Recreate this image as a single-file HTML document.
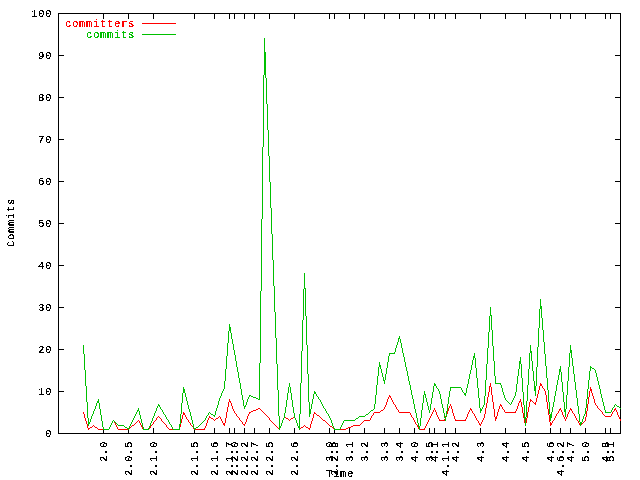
<!DOCTYPE html>
<html lang="en"><head><meta charset="utf-8"><title>Commits over Time</title>
<style>html,body{margin:0;padding:0;background:#fff}body{width:640px;height:480px;overflow:hidden}svg{display:block}
text{font-family:"Liberation Mono", monospace;font-size:10.6px;letter-spacing:0.640px;fill:#000;stroke:#000;stroke-width:.2px}
.d{stroke-width:.9px}
.r{fill:#f00;stroke:#f00}.g{fill:#00c000;stroke:#00c000}
.ln{fill:none;stroke-width:1;shape-rendering:crispEdges}</style></head><body>
<svg width="640" height="480" viewBox="0 0 640 480">
<rect width="640" height="480" fill="#fff"/>
<path shape-rendering="crispEdges" fill="#000" d="M58 13h563v1h-563zM58 433h563v1h-563zM58 14h1v419h-1zM620 14h1v419h-1zM59 391h5v1h-5zM615 391h5v1h-5zM59 349h5v1h-5zM615 349h5v1h-5zM59 307h5v1h-5zM615 307h5v1h-5zM59 265h5v1h-5zM615 265h5v1h-5zM59 223h5v1h-5zM615 223h5v1h-5zM59 181h5v1h-5zM615 181h5v1h-5zM59 139h5v1h-5zM615 139h5v1h-5zM59 97h5v1h-5zM615 97h5v1h-5zM59 55h5v1h-5zM615 55h5v1h-5zM103 428h1v5h-1zM103 14h1v5h-1zM128 428h1v5h-1zM128 14h1v5h-1zM153 428h1v5h-1zM153 14h1v5h-1zM194 428h1v5h-1zM194 14h1v5h-1zM214 428h1v5h-1zM214 14h1v5h-1zM229 428h1v5h-1zM229 14h1v5h-1zM234 428h1v5h-1zM234 14h1v5h-1zM244 428h1v5h-1zM244 14h1v5h-1zM254 428h1v5h-1zM254 14h1v5h-1zM269 428h1v5h-1zM269 14h1v5h-1zM294 428h1v5h-1zM294 14h1v5h-1zM329 428h1v5h-1zM329 14h1v5h-1zM334 428h1v5h-1zM334 14h1v5h-1zM349 428h1v5h-1zM349 14h1v5h-1zM364 428h1v5h-1zM364 14h1v5h-1zM384 428h1v5h-1zM384 14h1v5h-1zM399 428h1v5h-1zM399 14h1v5h-1zM414 428h1v5h-1zM414 14h1v5h-1zM429 428h1v5h-1zM429 14h1v5h-1zM434 428h1v5h-1zM434 14h1v5h-1zM445 428h1v5h-1zM445 14h1v5h-1zM455 428h1v5h-1zM455 14h1v5h-1zM480 428h1v5h-1zM480 14h1v5h-1zM505 428h1v5h-1zM505 14h1v5h-1zM525 428h1v5h-1zM525 14h1v5h-1zM550 428h1v5h-1zM550 14h1v5h-1zM560 428h1v5h-1zM560 14h1v5h-1zM570 428h1v5h-1zM570 14h1v5h-1zM585 428h1v5h-1zM585 14h1v5h-1zM605 428h1v5h-1zM605 14h1v5h-1zM610 428h1v5h-1zM610 14h1v5h-1z"/>
<defs><filter id="bm" filterUnits="userSpaceOnUse" x="0" y="0" width="640" height="480" color-interpolation-filters="sRGB"><feComponentTransfer><feFuncA type="discrete" tableValues="0 1"/></feComponentTransfer></filter></defs>
<g filter="url(#bm)">
<text x="45" y="437">0</text>
<text x="38" y="395">10</text>
<text x="38" y="353">20</text>
<text x="38" y="311">30</text>
<text x="38" y="269">40</text>
<text x="38" y="227">50</text>
<text x="38" y="185">60</text>
<text x="38" y="143">70</text>
<text x="38" y="101">80</text>
<text x="38" y="59">90</text>
<text x="31" y="17">100</text>
<text transform="translate(106.75 462) rotate(-90)">2<tspan class="d">.</tspan>0</text>
<text transform="translate(131.75 476) rotate(-90)">2<tspan class="d">.</tspan>0<tspan class="d">.</tspan>5</text>
<text transform="translate(156.75 476) rotate(-90)">2<tspan class="d">.</tspan>1<tspan class="d">.</tspan>0</text>
<text transform="translate(197.75 476) rotate(-90)">2<tspan class="d">.</tspan>1<tspan class="d">.</tspan>5</text>
<text transform="translate(217.75 476) rotate(-90)">2<tspan class="d">.</tspan>1<tspan class="d">.</tspan>6</text>
<text transform="translate(232.75 476) rotate(-90)">2<tspan class="d">.</tspan>1<tspan class="d">.</tspan>7</text>
<text transform="translate(237.75 476) rotate(-90)">2<tspan class="d">.</tspan>2<tspan class="d">.</tspan>0</text>
<text transform="translate(247.75 476) rotate(-90)">2<tspan class="d">.</tspan>2<tspan class="d">.</tspan>2</text>
<text transform="translate(257.75 476) rotate(-90)">2<tspan class="d">.</tspan>2<tspan class="d">.</tspan>7</text>
<text transform="translate(272.75 476) rotate(-90)">2<tspan class="d">.</tspan>2<tspan class="d">.</tspan>5</text>
<text transform="translate(297.75 476) rotate(-90)">2<tspan class="d">.</tspan>2<tspan class="d">.</tspan>6</text>
<text transform="translate(332.75 462) rotate(-90)">3<tspan class="d">.</tspan>0</text>
<text transform="translate(337.75 476) rotate(-90)">2<tspan class="d">.</tspan>2<tspan class="d">.</tspan>9</text>
<text transform="translate(352.75 462) rotate(-90)">3<tspan class="d">.</tspan>1</text>
<text transform="translate(367.75 462) rotate(-90)">3<tspan class="d">.</tspan>2</text>
<text transform="translate(387.75 462) rotate(-90)">3<tspan class="d">.</tspan>3</text>
<text transform="translate(402.75 462) rotate(-90)">3<tspan class="d">.</tspan>4</text>
<text transform="translate(417.75 462) rotate(-90)">4<tspan class="d">.</tspan>0</text>
<text transform="translate(432.75 462) rotate(-90)">3<tspan class="d">.</tspan>5</text>
<text transform="translate(437.75 462) rotate(-90)">4<tspan class="d">.</tspan>1</text>
<text transform="translate(448.75 476) rotate(-90)">4<tspan class="d">.</tspan>1<tspan class="d">.</tspan>1</text>
<text transform="translate(458.75 462) rotate(-90)">4<tspan class="d">.</tspan>2</text>
<text transform="translate(483.75 462) rotate(-90)">4<tspan class="d">.</tspan>3</text>
<text transform="translate(508.75 462) rotate(-90)">4<tspan class="d">.</tspan>4</text>
<text transform="translate(528.75 462) rotate(-90)">4<tspan class="d">.</tspan>5</text>
<text transform="translate(553.75 462) rotate(-90)">4<tspan class="d">.</tspan>6</text>
<text transform="translate(563.75 476) rotate(-90)">4<tspan class="d">.</tspan>6<tspan class="d">.</tspan>2</text>
<text transform="translate(573.75 462) rotate(-90)">4<tspan class="d">.</tspan>7</text>
<text transform="translate(588.75 462) rotate(-90)">5<tspan class="d">.</tspan>0</text>
<text transform="translate(608.75 462) rotate(-90)">4<tspan class="d">.</tspan>8</text>
<text transform="translate(613.75 462) rotate(-90)">5<tspan class="d">.</tspan>1</text>
<text transform="translate(14.25 247) rotate(-90)">Commits</text>
<text x="326" y="477">Time</text>
<text class="r" x="65" y="27">committers</text>
<text class="g" x="86" y="38">commits</text>
</g>
<path class="ln" stroke="#f00" d="M142 23.5H176"/>
<path class="ln" stroke="#00c000" d="M142 34.5H176"/>
<path shape-rendering="crispEdges" fill="#f00" d="M83 412h1v2h-1zM84 414h1v4h-1zM85 418h1v3h-1zM86 421h1v3h-1zM87 424h1v4h-1zM88 428h1v2h-1zM89 428h1v1h-1zM90 427h2v1h-2zM92 426h1v1h-1zM93 425h1v1h-1zM94 426h1v1h-1zM95 427h2v1h-2zM97 428h1v1h-1zM98 429h11v1h-11zM109 427h1v2h-1zM110 425h1v2h-1zM111 423h1v2h-1zM112 421h1v2h-1zM113 420h1v1h-1zM114 421h1v2h-1zM115 423h1v2h-1zM116 425h1v2h-1zM117 427h1v2h-1zM118 429h11v1h-11zM129 428h1v1h-1zM130 427h1v1h-1zM131 426h1v1h-1zM132 425h2v1h-2zM134 424h1v1h-1zM135 423h1v1h-1zM136 422h1v1h-1zM137 421h1v1h-1zM138 420h1v1h-1zM139 421h1v2h-1zM140 423h1v2h-1zM141 425h1v2h-1zM142 427h1v2h-1zM143 429h6v1h-6zM149 428h1v1h-1zM150 426h1v2h-1zM151 425h1v1h-1zM152 424h1v1h-1zM153 422h1v2h-1zM154 421h1v1h-1zM155 420h1v1h-1zM156 418h1v2h-1zM157 417h1v1h-1zM158 416h1v1h-1zM159 417h1v1h-1zM160 418h1v1h-1zM161 419h1v2h-1zM162 421h1v1h-1zM163 422h1v1h-1zM164 423h1v1h-1zM165 424h1v1h-1zM166 425h1v2h-1zM167 427h1v1h-1zM168 428h1v1h-1zM169 429h11v1h-11zM179 427h1v2h-1zM180 423h1v4h-1zM181 419h1v4h-1zM182 415h1v4h-1zM183 412h1v3h-1zM184 413h1v2h-1zM185 415h1v2h-1zM186 417h1v2h-1zM187 419h1v1h-1zM188 420h1v2h-1zM189 422h1v1h-1zM190 423h1v2h-1zM191 425h1v1h-1zM192 426h1v1h-1zM193 427h1v2h-1zM194 429h11v1h-11zM204 428h1v1h-1zM205 426h1v2h-1zM206 423h1v3h-1zM207 420h1v3h-1zM208 418h1v2h-1zM209 416h1v2h-1zM210 417h1v1h-1zM211 418h2v1h-2zM213 419h1v1h-1zM214 420h1v1h-1zM215 419h1v1h-1zM216 418h2v1h-2zM218 417h1v1h-1zM219 416h1v1h-1zM220 417h1v2h-1zM221 419h1v2h-1zM222 421h1v2h-1zM223 423h1v2h-1zM224 423h1v3h-1zM225 418h1v5h-1zM226 412h1v6h-1zM227 407h1v5h-1zM228 402h1v5h-1zM229 399h1v3h-1zM230 401h1v2h-1zM231 403h1v3h-1zM232 406h1v3h-1zM233 409h1v2h-1zM234 411h1v2h-1zM235 413h1v1h-1zM236 414h1v2h-1zM237 416h1v1h-1zM238 417h1v1h-1zM239 418h1v2h-1zM240 420h1v1h-1zM241 421h1v1h-1zM242 422h1v2h-1zM243 424h2v1h-2zM244 425h1v1h-1zM245 422h1v2h-1zM246 419h1v3h-1zM247 416h1v3h-1zM248 414h1v2h-1zM249 412h1v2h-1zM250 412h1v1h-1zM251 411h2v1h-2zM253 410h3v1h-3zM256 409h2v1h-2zM258 408h2v1h-2zM260 409h1v1h-1zM261 410h1v1h-1zM262 411h1v1h-1zM263 412h1v1h-1zM264 413h1v1h-1zM265 414h1v1h-1zM266 415h1v1h-1zM267 416h1v1h-1zM268 417h1v1h-1zM269 418h1v2h-1zM270 420h1v1h-1zM271 421h1v1h-1zM272 422h1v1h-1zM273 423h1v1h-1zM274 424h1v1h-1zM275 425h1v1h-1zM276 426h1v1h-1zM277 427h1v1h-1zM278 428h2v1h-2zM279 429h1v1h-1zM280 426h1v2h-1zM281 423h1v3h-1zM282 420h1v3h-1zM283 418h1v2h-1zM284 416h1v2h-1zM285 417h1v1h-1zM286 418h2v1h-2zM288 419h1v1h-1zM289 420h1v1h-1zM290 419h1v1h-1zM291 418h2v1h-2zM293 417h2v1h-2zM294 416h1v1h-1zM295 418h1v2h-1zM296 420h1v3h-1zM297 423h1v3h-1zM298 426h1v2h-1zM299 428h1v2h-1zM300 428h1v1h-1zM301 427h2v1h-2zM303 426h1v1h-1zM304 425h1v1h-1zM305 426h1v1h-1zM306 427h2v1h-2zM308 428h2v1h-2zM309 429h1v1h-1zM310 424h1v4h-1zM311 421h1v3h-1zM312 418h1v3h-1zM313 414h1v4h-1zM314 412h1v2h-1zM315 413h1v1h-1zM316 414h1v1h-1zM317 415h2v1h-2zM319 416h1v1h-1zM320 417h1v1h-1zM321 418h1v1h-1zM322 419h1v1h-1zM323 420h2v1h-2zM325 421h1v1h-1zM326 422h1v1h-1zM327 423h1v1h-1zM328 424h1v1h-1zM329 425h1v1h-1zM330 426h2v1h-2zM332 427h1v1h-1zM333 428h1v1h-1zM334 429h12v1h-12zM346 428h2v1h-2zM348 427h3v1h-3zM351 426h2v1h-2zM353 425h7v1h-7zM360 424h1v1h-1zM361 423h1v1h-1zM362 422h1v1h-1zM363 421h1v1h-1zM364 420h6v1h-6zM370 418h1v2h-1zM371 416h1v2h-1zM372 415h1v1h-1zM373 413h1v2h-1zM374 412h6v1h-6zM380 411h1v1h-1zM381 410h2v1h-2zM383 409h1v1h-1zM384 407h1v2h-1zM385 405h1v2h-1zM386 402h1v3h-1zM387 399h1v3h-1zM388 397h1v2h-1zM389 395h1v2h-1zM390 396h1v2h-1zM391 398h1v2h-1zM392 400h1v2h-1zM393 402h1v2h-1zM394 404h1v1h-1zM395 405h1v2h-1zM396 407h1v2h-1zM397 409h1v1h-1zM398 410h1v2h-1zM399 412h11v1h-11zM410 413h1v2h-1zM411 415h1v2h-1zM412 417h1v1h-1zM413 418h1v2h-1zM414 420h1v2h-1zM415 422h1v2h-1zM416 424h1v1h-1zM417 425h1v2h-1zM418 427h1v2h-1zM419 429h6v1h-6zM424 428h1v1h-1zM425 426h1v2h-1zM426 424h1v2h-1zM427 422h1v2h-1zM428 420h1v2h-1zM429 418h1v2h-1zM430 416h1v2h-1zM431 414h1v2h-1zM432 412h1v2h-1zM433 410h1v2h-1zM434 408h1v2h-1zM435 410h1v2h-1zM436 412h1v3h-1zM437 415h1v2h-1zM438 417h1v2h-1zM439 419h1v2h-1zM440 420h5v1h-5zM444 419h1v1h-1zM445 416h1v3h-1zM446 414h1v2h-1zM447 411h1v3h-1zM448 408h1v3h-1zM449 406h1v2h-1zM450 404h1v2h-1zM451 406h1v3h-1zM452 409h1v4h-1zM453 413h1v3h-1zM454 416h1v3h-1zM455 419h1v2h-1zM456 420h10v1h-10zM465 419h1v1h-1zM466 417h1v2h-1zM467 414h1v3h-1zM468 412h1v2h-1zM469 410h1v2h-1zM470 408h1v2h-1zM471 409h1v2h-1zM472 411h1v2h-1zM473 413h1v1h-1zM474 414h1v2h-1zM475 416h1v2h-1zM476 418h1v2h-1zM477 420h1v1h-1zM478 421h1v2h-1zM479 423h1v2h-1zM480 424h1v2h-1zM481 422h1v2h-1zM482 420h1v2h-1zM483 418h1v2h-1zM484 414h1v4h-1zM485 408h1v6h-1zM486 403h1v5h-1zM487 397h1v6h-1zM488 392h1v5h-1zM489 386h1v6h-1zM490 383h1v4h-1zM491 387h1v8h-1zM492 395h1v7h-1zM493 402h1v7h-1zM494 409h1v8h-1zM495 417h1v4h-1zM496 416h1v3h-1zM497 412h1v4h-1zM498 409h1v3h-1zM499 406h1v3h-1zM500 404h1v2h-1zM501 405h1v2h-1zM502 407h1v2h-1zM503 409h1v1h-1zM504 410h1v2h-1zM505 412h11v1h-11zM515 411h1v1h-1zM516 409h1v2h-1zM517 406h1v3h-1zM518 403h1v3h-1zM519 401h1v2h-1zM520 399h1v3h-1zM521 402h1v5h-1zM522 407h1v6h-1zM523 413h1v5h-1zM524 418h1v5h-1zM525 423h1v3h-1zM526 418h1v5h-1zM527 412h1v6h-1zM528 407h1v5h-1zM529 402h1v5h-1zM530 399h1v3h-1zM531 400h1v1h-1zM532 401h1v1h-1zM533 402h1v1h-1zM534 403h2v1h-2zM535 402h1v1h-1zM535 404h1v1h-1zM536 398h1v4h-1zM537 394h1v4h-1zM538 390h1v4h-1zM539 386h1v4h-1zM540 383h1v3h-1zM541 384h1v2h-1zM542 386h1v2h-1zM543 388h1v1h-1zM544 389h1v2h-1zM545 391h1v4h-1zM546 395h1v7h-1zM547 402h1v7h-1zM548 409h1v6h-1zM549 415h1v7h-1zM550 422h1v4h-1zM551 423h1v2h-1zM552 421h1v2h-1zM553 420h1v1h-1zM554 418h1v2h-1zM555 416h1v2h-1zM556 414h1v2h-1zM557 413h1v1h-1zM558 411h1v2h-1zM559 409h1v2h-1zM560 408h1v2h-1zM561 410h1v2h-1zM562 412h1v3h-1zM563 415h1v2h-1zM564 417h1v2h-1zM565 419h1v2h-1zM566 417h1v2h-1zM567 414h1v3h-1zM568 412h1v2h-1zM569 410h1v2h-1zM570 408h1v2h-1zM571 409h1v2h-1zM572 411h1v2h-1zM573 413h1v1h-1zM574 414h1v2h-1zM575 416h1v2h-1zM576 418h1v2h-1zM577 420h1v1h-1zM578 421h1v2h-1zM579 423h1v2h-1zM580 425h1v1h-1zM581 424h1v1h-1zM582 423h1v1h-1zM583 422h1v1h-1zM584 421h1v1h-1zM585 417h1v4h-1zM586 411h1v6h-1zM587 404h1v7h-1zM588 397h1v7h-1zM589 391h1v6h-1zM590 387h1v4h-1zM591 389h1v4h-1zM592 393h1v3h-1zM593 396h1v3h-1zM594 399h1v4h-1zM595 403h1v2h-1zM596 405h1v1h-1zM597 406h1v2h-1zM598 408h1v1h-1zM599 409h1v1h-1zM600 410h1v1h-1zM601 411h1v1h-1zM602 412h1v2h-1zM603 414h1v1h-1zM604 415h1v1h-1zM605 416h6v1h-6zM611 414h1v2h-1zM612 412h1v2h-1zM613 411h1v1h-1zM614 409h1v2h-1zM615 408h1v2h-1zM616 410h1v2h-1zM617 412h1v3h-1zM618 415h1v2h-1zM619 417h1v2h-1zM620 419h1v2h-1z"/>
<path shape-rendering="crispEdges" fill="#00c000" d="M83 345h1v9h-1zM84 354h1v16h-1zM85 370h1v16h-1zM86 386h1v16h-1zM87 402h1v16h-1zM88 418h1v8h-1zM89 422h1v2h-1zM90 419h1v3h-1zM91 416h1v3h-1zM92 414h1v2h-1zM93 411h1v3h-1zM94 409h1v2h-1zM95 406h1v3h-1zM96 403h1v3h-1zM97 401h1v2h-1zM98 399h1v4h-1zM99 403h1v6h-1zM100 409h1v6h-1zM101 415h1v6h-1zM102 421h1v6h-1zM103 427h1v3h-1zM104 429h5v1h-5zM109 427h1v2h-1zM110 425h1v2h-1zM111 423h1v2h-1zM112 421h1v2h-1zM113 420h1v1h-1zM114 421h1v1h-1zM115 422h1v1h-1zM116 423h1v1h-1zM117 424h1v1h-1zM118 425h6v1h-6zM124 426h1v1h-1zM125 427h2v1h-2zM127 428h2v1h-2zM128 429h1v1h-1zM129 426h1v2h-1zM130 424h1v2h-1zM131 422h1v2h-1zM132 420h1v2h-1zM133 418h1v2h-1zM134 416h1v2h-1zM135 414h1v2h-1zM136 412h1v2h-1zM137 410h1v2h-1zM138 408h1v3h-1zM139 411h1v4h-1zM140 415h1v4h-1zM141 419h1v4h-1zM142 423h1v4h-1zM143 427h1v3h-1zM144 429h5v1h-5zM148 428h1v1h-1zM149 426h1v2h-1zM150 423h1v3h-1zM151 421h1v2h-1zM152 418h1v3h-1zM153 416h1v2h-1zM154 413h1v3h-1zM155 411h1v2h-1zM156 408h1v3h-1zM157 406h1v2h-1zM158 404h1v2h-1zM159 405h1v2h-1zM160 407h1v2h-1zM161 409h1v1h-1zM162 410h1v2h-1zM163 412h1v2h-1zM164 414h1v1h-1zM165 415h1v2h-1zM166 417h1v2h-1zM167 419h1v1h-1zM168 420h1v2h-1zM169 422h1v2h-1zM170 424h1v1h-1zM171 425h1v2h-1zM172 427h1v2h-1zM173 429h7v1h-7zM179 424h1v5h-1zM180 414h1v10h-1zM181 403h1v11h-1zM182 393h1v10h-1zM183 387h1v6h-1zM184 389h1v4h-1zM185 393h1v4h-1zM186 397h1v4h-1zM187 401h1v4h-1zM188 405h1v4h-1zM189 409h1v3h-1zM190 412h1v4h-1zM191 416h1v4h-1zM192 420h1v4h-1zM193 424h1v4h-1zM194 428h1v2h-1zM195 428h1v1h-1zM196 427h2v1h-2zM198 426h1v1h-1zM199 425h1v1h-1zM200 424h1v1h-1zM201 423h1v1h-1zM202 422h1v1h-1zM203 421h1v1h-1zM204 420h1v1h-1zM205 418h1v2h-1zM206 416h1v2h-1zM207 415h1v1h-1zM208 413h1v2h-1zM209 412h1v1h-1zM210 413h1v1h-1zM211 414h2v1h-2zM213 415h2v1h-2zM214 416h1v1h-1zM215 411h1v4h-1zM216 408h1v3h-1zM217 405h1v3h-1zM218 401h1v4h-1zM219 398h1v3h-1zM220 396h1v2h-1zM221 393h1v3h-1zM222 391h1v2h-1zM223 389h1v2h-1zM224 381h1v8h-1zM225 369h1v12h-1zM226 356h1v13h-1zM227 343h1v13h-1zM228 331h1v12h-1zM229 324h1v7h-1zM230 327h1v6h-1zM231 333h1v6h-1zM232 339h1v5h-1zM233 344h1v6h-1zM234 350h1v5h-1zM235 355h1v6h-1zM236 361h1v6h-1zM237 367h1v5h-1zM238 372h1v6h-1zM239 378h1v5h-1zM240 383h1v6h-1zM241 389h1v6h-1zM242 395h1v5h-1zM243 400h1v6h-1zM244 406h1v3h-1zM245 405h1v2h-1zM246 402h1v3h-1zM247 399h1v3h-1zM248 397h1v2h-1zM249 395h1v2h-1zM250 395h1v1h-1zM251 396h2v1h-2zM253 397h3v1h-3zM256 398h2v1h-2zM258 399h2v1h-2zM259 363h1v36h-1zM260 291h1v72h-1zM261 219h1v72h-1zM262 147h1v72h-1zM263 75h1v72h-1zM264 38h1v37h-1zM265 52h1v26h-1zM266 78h1v26h-1zM267 104h1v26h-1zM268 130h1v26h-1zM269 156h1v26h-1zM270 182h1v26h-1zM271 208h1v26h-1zM272 234h1v26h-1zM273 260h1v26h-1zM274 286h1v26h-1zM275 312h1v26h-1zM276 338h1v26h-1zM277 364h1v26h-1zM278 390h1v26h-1zM279 416h1v14h-1zM280 426h1v2h-1zM281 423h1v3h-1zM282 420h1v3h-1zM283 418h1v2h-1zM284 413h1v5h-1zM285 407h1v6h-1zM286 400h1v7h-1zM287 393h1v7h-1zM288 387h1v6h-1zM289 383h1v4h-1zM290 387h1v6h-1zM291 393h1v7h-1zM292 400h1v7h-1zM293 407h1v6h-1zM294 413h1v5h-1zM295 418h1v2h-1zM296 420h1v3h-1zM297 423h1v3h-1zM298 426h1v2h-1zM299 414h1v16h-1zM300 383h1v31h-1zM301 351h1v32h-1zM302 320h1v31h-1zM303 289h1v31h-1zM304 273h1v16h-1zM305 288h1v28h-1zM306 316h1v29h-1zM307 345h1v29h-1zM308 374h1v28h-1zM309 402h1v15h-1zM310 409h1v5h-1zM311 404h1v5h-1zM312 399h1v5h-1zM313 394h1v5h-1zM314 391h1v3h-1zM315 392h1v2h-1zM316 394h1v2h-1zM317 396h1v1h-1zM318 397h1v2h-1zM319 399h1v1h-1zM320 400h1v2h-1zM321 402h1v2h-1zM322 404h1v2h-1zM323 406h1v2h-1zM324 408h1v1h-1zM325 409h1v2h-1zM326 411h1v2h-1zM327 413h1v1h-1zM328 414h1v2h-1zM329 416h1v2h-1zM330 418h1v2h-1zM331 420h1v3h-1zM332 423h1v3h-1zM333 426h1v2h-1zM334 428h1v2h-1zM335 429h5v1h-5zM340 427h1v2h-1zM341 425h1v2h-1zM342 423h1v2h-1zM343 421h1v2h-1zM344 420h11v1h-11zM355 419h1v1h-1zM356 418h2v1h-2zM358 417h1v1h-1zM359 416h6v1h-6zM365 415h1v1h-1zM366 414h2v1h-2zM368 413h1v1h-1zM369 412h1v1h-1zM370 411h1v1h-1zM371 410h2v1h-2zM373 409h1v1h-1zM374 404h1v5h-1zM375 395h1v9h-1zM376 385h1v10h-1zM377 376h1v9h-1zM378 367h1v9h-1zM379 362h1v5h-1zM380 365h1v4h-1zM381 369h1v4h-1zM382 373h1v4h-1zM383 377h1v4h-1zM384 380h1v4h-1zM385 374h1v6h-1zM386 368h1v6h-1zM387 362h1v6h-1zM388 356h1v6h-1zM389 353h1v3h-1zM390 353h5v1h-5zM394 352h1v1h-1zM395 348h1v4h-1zM396 345h1v3h-1zM397 342h1v3h-1zM398 338h1v4h-1zM399 336h1v3h-1zM400 339h1v4h-1zM401 343h1v5h-1zM402 348h1v5h-1zM403 353h1v4h-1zM404 357h1v5h-1zM405 362h1v5h-1zM406 367h1v4h-1zM407 371h1v5h-1zM408 376h1v5h-1zM409 381h1v4h-1zM410 385h1v5h-1zM411 390h1v5h-1zM412 395h1v4h-1zM413 399h1v5h-1zM414 404h1v5h-1zM415 409h1v4h-1zM416 413h1v5h-1zM417 418h1v5h-1zM418 423h1v4h-1zM419 426h1v4h-1zM420 418h1v8h-1zM421 410h1v8h-1zM422 403h1v7h-1zM423 395h1v8h-1zM424 391h1v4h-1zM425 394h1v4h-1zM426 398h1v4h-1zM427 402h1v4h-1zM428 406h1v4h-1zM429 410h1v3h-1zM430 404h1v6h-1zM431 398h1v6h-1zM432 392h1v6h-1zM433 386h1v6h-1zM434 383h1v3h-1zM435 384h1v2h-1zM436 386h1v2h-1zM437 388h1v1h-1zM438 389h1v2h-1zM439 391h1v3h-1zM440 394h1v5h-1zM441 399h1v5h-1zM442 404h1v4h-1zM443 408h1v5h-1zM444 413h1v5h-1zM445 417h1v4h-1zM446 411h1v6h-1zM447 404h1v7h-1zM448 397h1v7h-1zM449 391h1v6h-1zM450 387h1v4h-1zM451 387h10v1h-10zM461 388h1v2h-1zM462 390h1v2h-1zM463 392h1v1h-1zM464 393h1v2h-1zM465 393h1v3h-1zM466 388h1v5h-1zM467 384h1v4h-1zM468 379h1v5h-1zM469 374h1v5h-1zM470 370h1v4h-1zM471 365h1v5h-1zM472 360h1v5h-1zM473 356h1v4h-1zM474 353h1v5h-1zM475 358h1v10h-1zM476 368h1v10h-1zM477 378h1v10h-1zM478 388h1v10h-1zM479 398h1v10h-1zM480 408h1v5h-1zM481 409h1v2h-1zM482 407h1v2h-1zM483 405h1v2h-1zM484 396h1v9h-1zM485 380h1v16h-1zM486 364h1v16h-1zM487 348h1v16h-1zM488 332h1v16h-1zM489 316h1v16h-1zM490 307h1v9h-1zM491 315h1v15h-1zM492 330h1v16h-1zM493 346h1v15h-1zM494 361h1v15h-1zM495 376h1v8h-1zM496 383h5v1h-5zM500 384h1v1h-1zM501 385h1v3h-1zM502 388h1v4h-1zM503 392h1v3h-1zM504 395h1v3h-1zM505 398h1v2h-1zM506 400h1v1h-1zM507 401h1v1h-1zM508 402h1v1h-1zM509 403h1v1h-1zM510 404h1v1h-1zM511 402h1v2h-1zM512 400h1v2h-1zM513 398h1v2h-1zM514 396h1v2h-1zM515 392h1v4h-1zM516 384h1v8h-1zM517 376h1v8h-1zM518 369h1v7h-1zM519 361h1v8h-1zM520 357h1v7h-1zM521 364h1v14h-1zM522 378h1v14h-1zM523 392h1v13h-1zM524 405h1v14h-1zM525 417h1v9h-1zM526 401h1v16h-1zM527 385h1v16h-1zM528 369h1v16h-1zM529 353h1v16h-1zM530 345h1v8h-1zM531 351h1v10h-1zM532 361h1v10h-1zM533 371h1v10h-1zM534 381h1v10h-1zM535 386h1v10h-1zM536 367h1v19h-1zM537 347h1v20h-1zM538 328h1v19h-1zM539 309h1v19h-1zM540 299h1v10h-1zM541 306h1v12h-1zM542 318h1v12h-1zM543 330h1v12h-1zM544 342h1v12h-1zM545 354h1v12h-1zM546 366h1v12h-1zM547 378h1v12h-1zM548 390h1v12h-1zM549 402h1v12h-1zM550 414h1v7h-1zM551 412h1v6h-1zM552 407h1v5h-1zM553 402h1v5h-1zM554 396h1v6h-1zM555 391h1v5h-1zM556 385h1v6h-1zM557 380h1v5h-1zM558 375h1v5h-1zM559 369h1v6h-1zM560 366h1v6h-1zM561 372h1v10h-1zM562 382h1v10h-1zM563 392h1v10h-1zM564 402h1v10h-1zM565 409h1v8h-1zM566 395h1v14h-1zM567 381h1v14h-1zM568 367h1v14h-1zM569 353h1v14h-1zM570 345h1v8h-1zM571 350h1v8h-1zM572 358h1v8h-1zM573 366h1v8h-1zM574 374h1v8h-1zM575 382h1v8h-1zM576 390h1v8h-1zM577 398h1v8h-1zM578 406h1v8h-1zM579 414h1v8h-1zM580 422h1v4h-1zM581 422h1v2h-1zM582 419h1v3h-1zM583 416h1v3h-1zM584 414h1v2h-1zM585 408h1v6h-1zM586 399h1v9h-1zM587 389h1v10h-1zM588 380h1v9h-1zM589 371h1v9h-1zM590 366h1v5h-1zM591 367h1v1h-1zM592 368h2v1h-2zM594 369h1v1h-1zM595 370h1v3h-1zM596 373h1v4h-1zM597 377h1v4h-1zM598 381h1v4h-1zM599 385h1v4h-1zM600 389h1v5h-1zM601 394h1v4h-1zM602 398h1v4h-1zM603 402h1v4h-1zM604 406h1v4h-1zM605 410h1v3h-1zM606 412h5v1h-5zM611 410h1v2h-1zM612 408h1v2h-1zM613 407h1v1h-1zM614 405h1v2h-1zM615 404h1v1h-1zM616 405h1v1h-1zM617 406h2v1h-2zM619 407h1v1h-1zM620 408h1v1h-1z"/>
</svg></body></html>
